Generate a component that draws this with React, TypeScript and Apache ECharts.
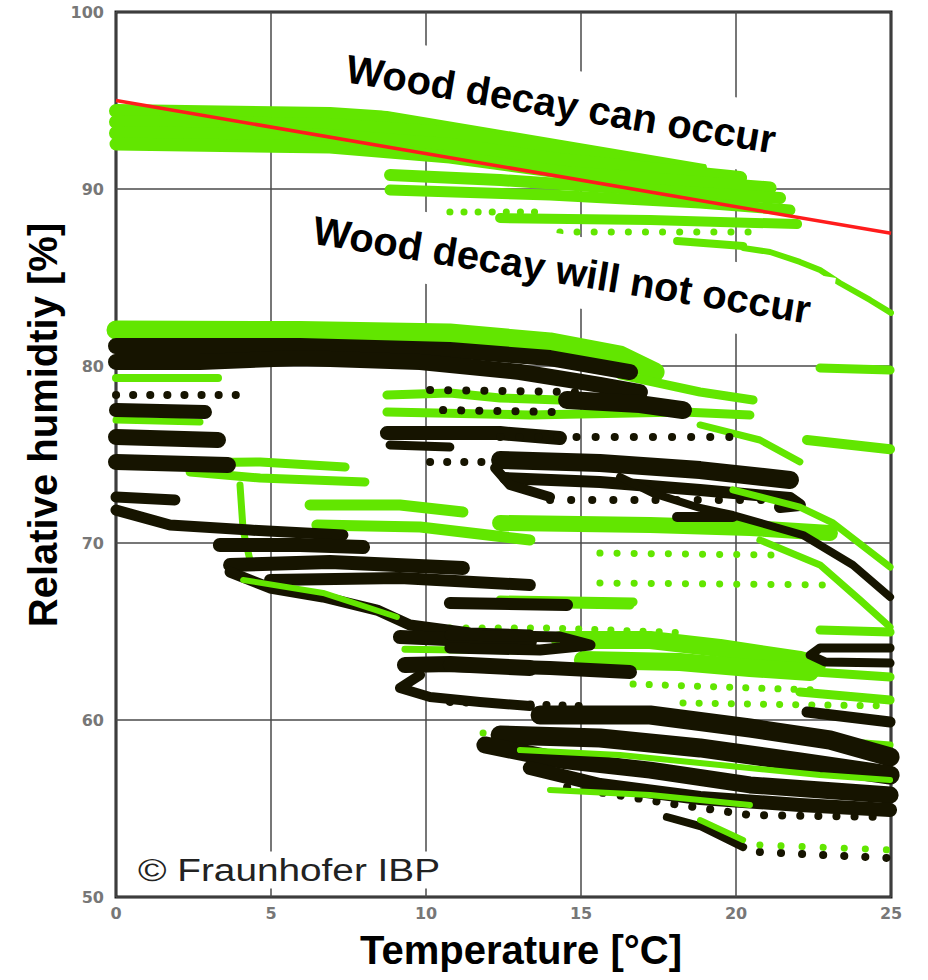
import React, { useEffect, useRef } from "react";
import * as echarts from "echarts";

// ---------- axes ----------
const xMin = 0, xMax = 25, xStep = 5;
const yMin = 50, yMax = 100, yStep = 10;
const xTitle = "Temperature [°C]";
const yTitle = "Relative humidtiy [%]";
const labelCan = "Wood decay can occur";
const labelNot = "Wood decay will not occur";
const copyright = "© Fraunhofer IBP";

// ---------- threshold (red) ----------
const thresholdLine = [[0, 95], [25, 87.5]];

// ---------- green trajectories [T °C, RH %] ----------
const gTopA = [[0, 94.41], [6.9, 94.24], [10.77, 93.79], [14.32, 92.88], [17.55, 91.64]];
const gTopB = [[0, 93.79], [6.9, 93.62], [10.77, 93.16], [14.32, 92.32], [18.84, 91.19]];
const gTopC = [[0, 93.16], [6.9, 92.99], [10.77, 92.49], [14.32, 91.64], [20.13, 90.62]];
const gTopD = [[0, 92.54], [6.9, 92.37], [10.77, 91.81], [14.32, 90.96], [21.1, 90.06]];
const gTopE = [[8.84, 90.79], [12.39, 90.51], [17.23, 89.94], [21.42, 89.49]];
const gTopF = [[8.84, 89.94], [14.0, 89.66], [18.84, 89.21], [21.74, 88.81]];
const gTopG = [[12.39, 88.36], [17.23, 88.25], [21.97, 88.02]];
const gTopDots2 = [[10.77, 88.7], [13.58, 88.7]];
const gTopDots = [[14.32, 87.57], [20.87, 87.57]];
const gTopH = [[18.1, 87.06], [20.23, 86.78]];
const gTopTail = [[20.23, 86.67], [21.1, 86.44], [22.06, 85.88], [22.71, 85.42], [23.35, 84.69], [24.32, 83.73], [25, 83.0]];

const gMidTop = [[0, 82.03], [5.94, 82.0], [10.77, 81.86], [14.0, 81.36], [16.26, 80.62], [17.39, 79.66]];
const gL1 = [[0, 79.32], [3.29, 79.32]];
const gL2 = [[0, 76.95], [2.71, 76.84]];
const gL3 = [[1.74, 74.52], [4.65, 74.58], [7.39, 74.29]];
const gL4 = [[2.39, 74.01], [4.65, 73.67], [8.03, 73.45]];
const gL5 = [[6.26, 72.15], [9.16, 72.15], [11.19, 71.75]];
const gL6 = [[6.48, 71.02], [9.81, 70.9], [13.35, 70.17]];
const gL7 = [[4.0, 73.28], [4.1, 70.73], [4.32, 69.04]];
const gL8 = [[4.1, 67.91], [6.68, 67.18], [9.06, 65.82]];
const gL9 = [[9.32, 64.0], [13.35, 63.9]];
const gM1 = [[8.74, 78.36], [10.77, 78.47], [12.39, 78.19], [14.32, 78.08]];
const gM2 = [[8.74, 77.4], [13.35, 77.23], [18.29, 77.4], [20.45, 77.23]];
const gM3 = [[19.9, 73.0], [22.06, 72.03], [23.13, 71.13], [24.97, 68.64]];
const gM4 = [[20.77, 70.17], [22.71, 68.76], [24.0, 66.78], [24.97, 65.25]];
const gM5 = [[22.71, 79.89], [24.97, 79.77]];
const gM6 = [[22.29, 75.82], [24.97, 75.3]];
const gM7 = [[12.39, 71.13], [17.23, 71.02], [20.45, 70.85], [23.03, 70.56]];
const gM8Dots = [[15.61, 69.43], [21.42, 69.32]];
const gM9Dots = [[15.61, 67.74], [23.03, 67.63]];
const gM10 = [[12.39, 66.78], [16.68, 66.67]];
const gM11 = [[16.26, 79.5], [18.84, 78.53], [20.55, 78.08]];
const gM12 = [[18.84, 76.67], [20.77, 75.82], [22.06, 74.58]];

const gR1 = [[14.55, 66.55], [16.58, 66.5]];
const gRDots1 = [[10.77, 65.2], [14.0, 65.2], [18.52, 64.92]];
const gR2 = [[14.32, 64.52], [17.23, 64.52], [19.48, 64.07], [22.06, 63.39], [22.61, 63.11]];
const gR3 = [[15.06, 63.39], [18.19, 63.28], [20.45, 62.94], [22.39, 62.71]];
const gR4 = [[22.71, 65.08], [24.97, 64.97]];
const gR5 = [[22.55, 62.71], [24.97, 62.43]];
const gRDots2 = [[16.68, 62.03], [22.61, 61.69]];
const gRDots3 = [[18.29, 60.96], [24.97, 60.79]];
const gR6 = [[22.06, 61.58], [24.97, 61.13]];
const gCDots1 = [[11.84, 59.27], [14.0, 59.27]];
const gC2 = [[13.03, 58.3], [16.26, 58.02], [19.48, 57.46], [22.71, 56.89], [24.97, 56.61]];
const gC3 = [[18.84, 59.72], [22.06, 58.98], [24.97, 58.59]];
const gC4 = [[14.0, 56.05], [17.23, 55.76], [20.45, 55.2]];
const gC5 = [[23.13, 56.05], [24.97, 55.93]];
const gT1 = [[18.84, 54.35], [20.23, 53.22]];
const gTDots = [[20.77, 52.94], [24.97, 52.66]];

// ---------- black trajectories [T °C, RH %] ----------
const bA = [[0, 81.13], [5.94, 81.13], [10.77, 80.9], [14.0, 80.45], [16.58, 79.66]];
const bB = [[0, 80.23], [2.71, 80.23], [5.94, 80.45], [9.81, 80.23], [13.03, 79.66], [15.61, 78.93], [16.9, 78.53]];
const bLDots = [[0, 78.36], [4.0, 78.36]];
const bL2 = [[0, 77.51], [2.87, 77.4]];
const bL3 = [[0, 75.99], [3.29, 75.82]];
const bL4 = [[0, 74.58], [3.61, 74.41]];
const bL5 = [[0, 72.6], [1.9, 72.43]];
const bL6 = [[0, 71.86], [1.74, 71.02], [4.32, 70.73], [7.32, 70.45]];
const bL7 = [[3.35, 69.89], [5.94, 69.89], [7.97, 69.77]];
const bL8 = [[3.68, 68.76], [6.9, 68.93], [11.19, 68.59]];
const bL9 = [[3.68, 68.36], [4.97, 67.46], [6.68, 66.95], [8.42, 66.21], [9.48, 65.37], [11.42, 64.92], [13.35, 64.8]];
const bL10 = [[4.97, 67.91], [9.16, 68.02], [13.35, 67.63]];
const bL11 = [[9.16, 64.69], [11.42, 64.52], [13.35, 64.41]];
const bL12 = [[9.32, 63.11], [10.77, 63.16], [13.35, 62.94]];
const bL13 = [[9.81, 62.54], [9.16, 61.81], [10.13, 61.3], [11.74, 61.02], [13.35, 60.79]];
const bMDots1 = [[10.13, 78.64], [15.06, 78.53]];
const bMDots2 = [[10.55, 77.51], [14.32, 77.4]];
const bM3 = [[14.55, 78.08], [16.9, 77.85], [18.29, 77.51]];
const bM5 = [[8.74, 76.21], [12.39, 76.21], [14.32, 75.93]];
const bM6 = [[8.84, 75.54], [10.77, 75.42]];
const bMDots7 = [[10.13, 74.58], [12.71, 74.58]];
const bMDots8 = [[12.39, 75.99], [20.35, 75.99]];
const bM10 = [[12.39, 74.69], [15.61, 74.52], [18.84, 74.12], [21.74, 73.56]];
const bM11 = [[12.55, 73.67], [15.61, 73.45], [18.84, 73.0], [21.74, 72.54], [22.06, 72.15], [21.42, 72.03]];
const bM12 = [[12.23, 74.24], [12.71, 73.28], [14.0, 72.6]];
const bMDots12 = [[14.0, 72.43], [21.52, 72.43]];
const bM13 = [[16.26, 73.73], [17.32, 72.82], [18.84, 71.98], [19.9, 71.58], [22.16, 70.45], [23.77, 68.76], [24.97, 66.95]];
const bM14 = [[18.1, 71.47], [19.9, 71.47]];
const bR1 = [[10.77, 66.61], [14.55, 66.5]];
const bR2 = [[10.77, 64.8], [14.32, 64.69], [15.29, 64.24], [13.68, 63.95], [10.77, 64.07]];
const bR3 = [[10.77, 63.11], [14.0, 62.94], [16.58, 62.71]];
const bR4 = [[24.97, 64.07], [22.71, 64.07], [22.39, 63.67], [22.87, 63.28], [24.97, 63.22]];
const bRDots1 = [[10.77, 61.02], [15.06, 60.79]];
const bR5 = [[22.29, 60.45], [24.97, 59.89]];
const bC1 = [[13.68, 60.28], [17.23, 60.28], [20.45, 59.55], [23.03, 58.87], [24.97, 57.91]];
const bC2 = [[12.39, 59.15], [15.61, 58.98], [18.84, 58.42], [22.06, 57.63], [24.97, 56.89]];
const bC3 = [[11.9, 58.59], [14.32, 57.74], [17.23, 57.17], [20.45, 56.33], [24.97, 55.76]];
const bC4 = [[13.35, 57.29], [15.61, 56.33], [18.84, 55.59], [22.06, 55.2], [24.97, 54.92]];
const bCDots5 = [[14.55, 56.21], [17.77, 55.31], [20.45, 54.63], [24.97, 54.52]];
const bT1 = [[17.77, 54.52], [18.84, 54.01], [20.23, 52.82]];
const bTDots = [[20.77, 52.54], [24.97, 52.2]];

// ---------- styling ----------
const GREEN = "#62e600";
const BLACK = "#161400";
const RED = "#ff1c1c";

type Track = { data: number[][]; color: string; width: number; dots?: number };
const g = (data: number[][], width: number, dots?: number): Track => ({ data, color: GREEN, width, dots });
const b = (data: number[][], width: number, dots?: number): Track => ({ data, color: BLACK, width, dots });

const backTracks: Track[] = [
  g(gTopA, 14), g(gTopB, 14), g(gTopC, 14), g(gTopD, 13), g(gTopE, 12), g(gTopF, 11), g(gTopG, 10),
  g(gTopDots, 7, 17), g(gTopDots2, 7, 14), g(gTopH, 8), g(gTopTail, 6),
  g(gMidTop, 19), g(gL1, 8), g(gL2, 7), g(gL3, 9), g(gL4, 9), g(gL5, 11), g(gL6, 11), g(gL7, 7), g(gL9, 7),
  g(gM1, 9), g(gM2, 9), g(gM5, 9), g(gM6, 10), g(gM7, 16), g(gM8Dots, 7, 17), g(gM9Dots, 7, 17),
  g(gM10, 9), g(gM11, 9), g(gM12, 7),
  g(gR1, 9), g(gRDots1, 7, 16), g(gR2, 18), g(gR3, 18), g(gR4, 9), g(gR5, 9),
  g(gRDots2, 7, 16), g(gRDots3, 7, 16), g(gR6, 9), g(gCDots1, 7, 15), g(gC3, 7), g(gC5, 7),
];
const blackTracks: Track[] = [
  b(bA, 16), b(bB, 16), b(bLDots, 8, 17), b(bL2, 14), b(bL3, 16), b(bL4, 16), b(bL5, 11),
  b(bL6, 11), b(bL7, 14), b(bL8, 14), b(bL9, 11), b(bL10, 12), b(bL11, 14), b(bL12, 16), b(bL13, 10),
  b(bMDots1, 8, 18), b(bMDots2, 8, 18), b(bM3, 18), b(bM5, 14), b(bM6, 9), b(bMDots7, 8, 17),
  b(bMDots8, 8, 19), b(bM10, 18), b(bM11, 12), b(bM12, 10), b(bMDots12, 8, 21), b(bM13, 8), b(bM14, 10),
  b(bR1, 12), b(bR2, 11), b(bR3, 14), b(bR4, 9), b(bRDots1, 8, 16), b(bR5, 11),
  b(bC1, 19), b(bC2, 19), b(bC3, 17), b(bC4, 14), b(bCDots5, 8, 18), b(bT1, 8), b(bTDots, 8, 21),
];
const frontTracks: Track[] = [
  g(gL8, 6), g(gM3, 7), g(gM4, 7), g(gC2, 6), g(gC4, 6), g(gT1, 6), g(gTDots, 7, 21),
];

function toSeries(t: Track, z: number) {
  return {
    type: "line",
    data: t.data,
    symbol: "none",
    showSymbol: false,
    silent: true,
    clip: true,
    z,
    lineStyle: {
      color: t.color,
      width: t.width,
      cap: "round",
      join: "round",
      type: t.dots ? [0.1, t.dots] : "solid",
    },
  };
}

export default function App() {
  const ref = useRef<HTMLDivElement>(null);
  useEffect(() => {
    if (!ref.current) return;
    const chart = echarts.init(ref.current, undefined, { renderer: "svg" });
    const series: any[] = [
      ...backTracks.map((t) => toSeries(t, 2)),
      ...blackTracks.map((t) => toSeries(t, 3)),
      ...frontTracks.map((t) => toSeries(t, 4)),
      {
        type: "line",
        data: thresholdLine,
        symbol: "none",
        silent: true,
        z: 6,
        lineStyle: { color: RED, width: 3.5 },
      },
    ];
    const axisLabel = {
      color: "#777",
      fontFamily: "DejaVu Sans",
      fontWeight: "bold",
      fontSize: 16,
    };
    const titleStyle = {
      fontSize: 40,
      fontWeight: "bold",
      fontFamily: "Liberation Sans",
      fill: "#000",
      align: "center",
      verticalAlign: "middle",
      textAlign: "center",
      textVerticalAlign: "middle",
    };
    chart.setOption({
      animation: false,
      backgroundColor: "#fff",
      grid: {
        left: 116,
        top: 12,
        right: 37,
        bottom: 83,
        show: true,
        borderColor: "#1a1a1a",
        borderWidth: 3,
        backgroundColor: "transparent",
      },
      xAxis: {
        type: "value",
        min: xMin,
        max: xMax,
        interval: xStep,
        axisLine: { show: false },
        axisTick: { show: false },
        axisLabel: { ...axisLabel, margin: 8 },
        splitLine: { show: true, lineStyle: { color: "#4a4a4a", width: 1.5 } },
      },
      yAxis: {
        type: "value",
        min: yMin,
        max: yMax,
        interval: yStep,
        axisLine: { show: false },
        axisTick: { show: false },
        axisLabel: { ...axisLabel, margin: 12 },
        splitLine: { show: true, lineStyle: { color: "#4a4a4a", width: 1.5 } },
      },
      series,
      graphic: [
        {
          type: "text",
          x: 561,
          y: 104,
          rotation: -0.166,
          z: 100,
          style: { ...titleStyle, text: labelCan, backgroundColor: "#fff", padding: [20, 30, 11, 30] },
        },
        {
          type: "text",
          x: 557,
          y: 269,
          rotation: -0.16,
          z: 100,
          style: { ...titleStyle, text: labelNot, backgroundColor: "#fff", padding: [20, 20, 11, 30] },
        },
        {
          type: "text",
          x: 133,
          y: 870,
          scaleX: 1.25,
          z: 100,
          style: {
            text: copyright,
            fontSize: 31,
            fontFamily: "Liberation Sans",
            fill: "#222",
            align: "left",
            verticalAlign: "middle",
            textAlign: "left",
            textVerticalAlign: "middle",
            backgroundColor: "#fff",
            padding: [3, 4],
          },
        },
        {
          type: "text",
          x: 43,
          y: 425,
          rotation: Math.PI / 2,
          z: 100,
          style: { ...titleStyle, text: yTitle },
        },
        {
          type: "text",
          x: 521,
          y: 950,
          z: 100,
          style: { ...titleStyle, text: xTitle },
        },
      ],
    });
    return () => chart.dispose();
  }, []);
  return (
    <div
      ref={ref}
      style={{ position: "absolute", left: 0, top: 0, width: 928, height: 980 }}
    />
  );
}
